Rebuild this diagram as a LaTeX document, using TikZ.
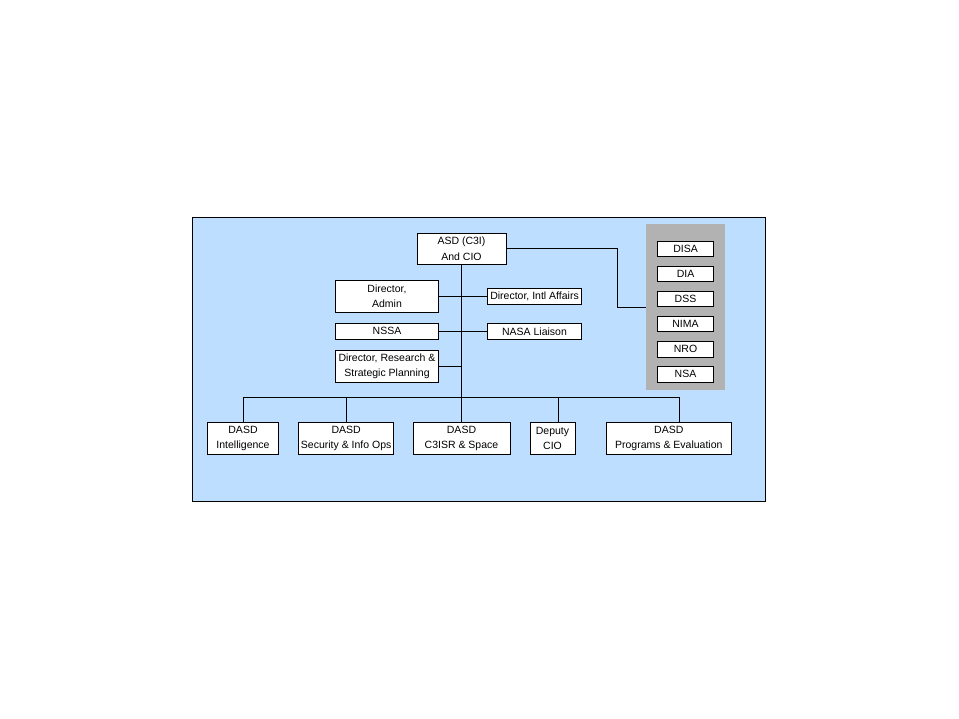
\documentclass[tikz,border=0pt]{standalone}
\usepackage{fontspec}
\setmainfont{Liberation Sans}
\usepackage{tikz}
\usetikzlibrary{positioning, calc}
\definecolor{orgblue}{RGB}{189,222,255}
\definecolor{orggray}{RGB}{178,178,178}

\begin{document}
\begin{tikzpicture}[x=1pt, y=-1pt,
    office/.style={draw, fill=white, line width=0.8pt, inner sep=0pt, align=center,
      font=\fontsize{10.5}{15.5}\selectfont},
    agency/.style={office, minimum width=56pt, minimum height=15.5pt},
    link/.style={line width=0.8pt}]
  \useasboundingbox (0,0) rectangle (959,719);
  \draw[fill=orgblue, line width=0.8pt] (192,217) rectangle (765,501);

  % top and staff offices
  \node[office, minimum width=89pt, minimum height=31pt] (asd) at (461.5,248.8) {ASD (C3I)\\And CIO};
  \node[office, minimum width=103pt, minimum height=32pt] (admin) at (387,296.3) {Director,\\Admin};
  \node[office, minimum width=103pt, minimum height=16pt, below=10.2pt of admin] (nssa) {NSSA};
  \node[office, minimum width=103pt, minimum height=32pt, below=10pt of nssa] (research) {Director, Research \&\\Strategic Planning};
  \node[office, minimum width=94pt, minimum height=15.5pt] (intl) at (534.5,296.3) {Director, Intl Affairs};
  \node[office, minimum width=94pt, minimum height=16pt] (nasa) at (nssa -| intl) {NASA Liaison};

  % defense agencies
  \node[fill=orggray, minimum width=79pt, minimum height=166pt, inner sep=0pt] (panel) at (685.5,307) {};
  \node[agency] (disa) at (685.5,248.8) {DISA};
  \node[agency, below=8.8pt of disa] (dia) {DIA};
  \node[agency, below=8.8pt of dia] (dss) {DSS};
  \node[agency, below=8.8pt of dss] (nima) {NIMA};
  \node[agency, below=8.8pt of nima] (nro) {NRO};
  \node[agency, below=8.8pt of nro] (nsa) {NSA};

  % deputies
  \node[office, minimum width=71pt, minimum height=32pt] (intel) at (243,438.3) {DASD\\Intelligence};
  \node[office, minimum width=95pt, minimum height=32pt] (secur) at (346.2,438.3) {DASD\\Security \& Info Ops};
  \node[office, minimum width=97pt, minimum height=32pt] (c3isr) at (461.5,438.3) {DASD\\C3ISR \& Space};
  \node[office, minimum width=45pt, minimum height=32pt] (deputy) at (552.5,438.3) {Deputy\\CIO};
  \node[office, minimum width=125.5pt, minimum height=32pt] (progs) at (668.8,438.3) {DASD\\Programs \& Evaluation};

  \coordinate (busL) at (243,397.5);
  \coordinate (busR) at (679,397.5);
  \coordinate (depdrop) at (558.3,397.5);
  \coordinate (elbow) at (617.3,307.3);

  \draw[link] (asd.south) -- (c3isr.north);
  \draw[link] (admin.east) -- (intl.west);
  \draw[link] (nssa.east) -- (nasa.west);
  \draw[link] (research.east) -- (asd.south |- research.east);
  \draw[link] (intel.north) -- (busL) -- (busR) -- (busR |- progs.north);
  \draw[link] (secur.north |- busL) -- (secur.north);
  \draw[link] (depdrop) -- (depdrop |- deputy.north);
  \draw[link] (asd.east) -| (elbow) -- (elbow -| panel.west);
\end{tikzpicture}
\end{document}
